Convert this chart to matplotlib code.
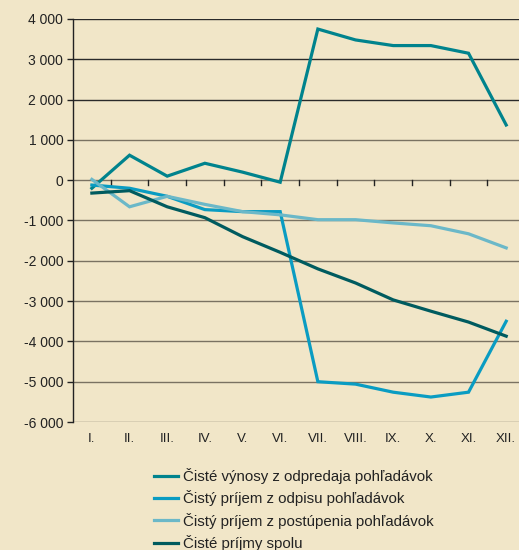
import matplotlib
matplotlib.use("Agg")
import matplotlib.pyplot as plt
import numpy as np

months = ["I.", "II.", "III.", "IV.", "V.", "VI.", "VII.", "VIII.", "IX.", "X.", "XI.", "XII."]

vynosy_odpredaj = [-200, 620, 100, 420, 200, -50, 3750, 3480, 3340, 3340, 3150, 1370]
prijem_odpis = [-120, -200, -400, -730, -780, -780, -5000, -5060, -5260, -5380, -5260, -3500]
prijem_postupenie = [20, -660, -400, -600, -780, -860, -980, -980, -1060, -1130, -1330, -1680]
prijmy_spolu = [-320, -260, -660, -930, -1400, -1790, -2200, -2550, -2970, -3250, -3520, -3870]

series = [
    ("Čisté výnosy z odpredaja pohľadávok", vynosy_odpredaj, "#00838d"),
    ("Čistý príjem z odpisu pohľadávok", prijem_odpis, "#0a9cc2"),
    ("Čistý príjem z postúpenia pohľadávok", prijem_postupenie, "#6bb8c8"),
    ("Čisté príjmy spolu", prijmy_spolu, "#005b5f"),
]

BG = "#f1e6c8"
plt.rcParams["font.family"] = ["Liberation Sans", "DejaVu Sans"]

fig = plt.figure(figsize=(5.19, 5.5), dpi=100, facecolor=BG)
ax = fig.add_axes([0.1407, 0.2327, 0.8593, 0.7328], facecolor=BG)

x = np.arange(len(months))
for label, vals, color in series:
    ax.plot(x, vals, color=color, lw=2.3, label=label, solid_joinstyle="miter")

# horizontal grid: upper lines darker, lower ones greyish
yticks = np.arange(-6000, 4001, 1000)
for v in yticks:
    c = "#2a2a2a" if v >= 2000 else "#7a7262"
    ax.axhline(v, color=c, lw=1.0, zorder=0)

ax.set_xlim(-0.5, 11.34)
ax.set_ylim(-6000, 4000)
ax.set_yticks(yticks)
ax.set_yticklabels([f"{v:,}".replace(",", " ") for v in yticks])
ax.tick_params(axis="y", direction="out", length=4, width=1, colors="#222",
               labelsize=10, pad=3)

# month labels under the plot, tick marks sit on the zero line between months
ax.set_xticks(x)
ax.set_xticklabels(months)
ax.tick_params(axis="x", length=0, labelsize=9.5, labelcolor="#222", pad=8)
for xt in np.arange(0.5, 11, 1.0):
    ax.plot([xt, xt], [0, -130], color="#222", lw=1, zorder=1)

for s in ["top", "right", "bottom"]:
    ax.spines[s].set_visible(False)
ax.spines["left"].set_color("#222")
ax.spines["left"].set_linewidth(1)

fig.legend(loc="upper left", bbox_to_anchor=(0.297, 0.149), frameon=False,
           fontsize=10.8, handlelength=1.6, handletextpad=0.35, labelspacing=0.42,
           borderaxespad=0, borderpad=0, prop={"size": 10.8}, labelcolor="#222")

fig.savefig("out.png", dpi=100, facecolor=BG)
